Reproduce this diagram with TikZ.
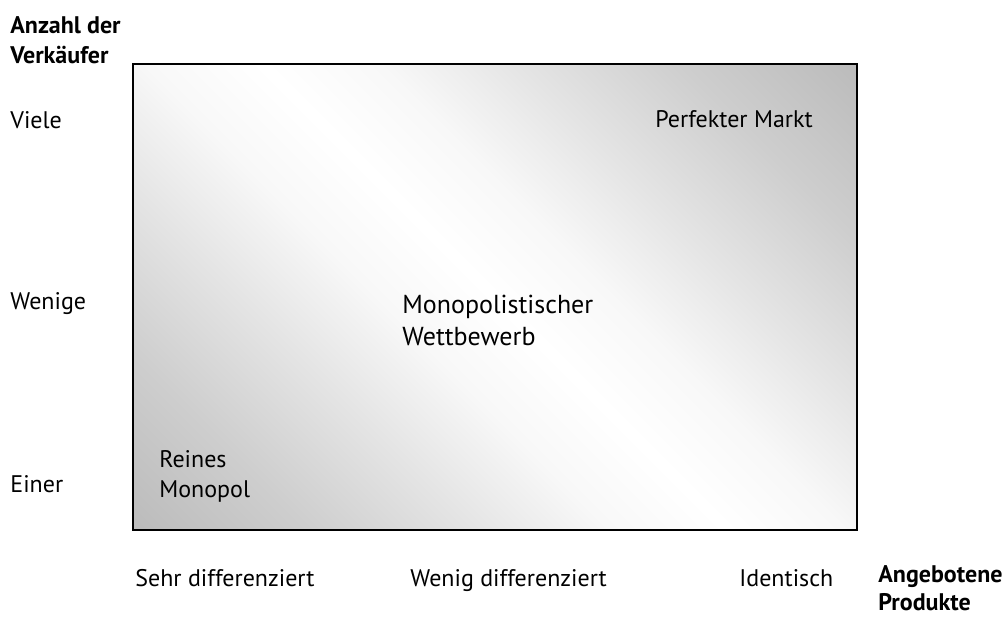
\documentclass[tikz,border=0pt]{standalone}
\usepackage{fontspec}
\setmainfont{PT Sans}
\usepackage{tikz}

\definecolor{feldgrau}{RGB}{188,188,188}
\definecolor{feldmitte}{RGB}{206,206,206}
\definecolor{feldhell}{RGB}{229,229,229}
\definecolor{feldweiss}{RGB}{248,248,248}
\pgfdeclarehorizontalshading{marktfeld}{100bp}{color(0bp)=(feldgrau); color(15bp)=(feldgrau); color(25bp)=(feldmitte); color(35bp)=(feldhell); color(43bp)=(feldweiss); color(50bp)=(white); color(57bp)=(feldweiss); color(65bp)=(feldhell); color(75bp)=(feldmitte); color(85bp)=(feldgrau); color(100bp)=(feldgrau)}

\tikzset{
  lbl/.style={anchor=base west,inner sep=0pt,align=left,font=\fontsize{12}{15}\selectfont},
  achse/.style={lbl,font=\fontsize{12}{15}\selectfont\bfseries}
}

\begin{document}
\begin{tikzpicture}[x=0.5pt,y=-0.5pt]
\useasboundingbox (0,0) rectangle (1007,621);
% Feld
\draw [line width=1pt,shading=marktfeld,shading angle=45] (133,64) rectangle (857,530);
% Achsen (base = letzte Zeile)
\node [achse] (yachse) at (10,63) {Anzahl der\\Verkäufer};
\node [achse,font=\fontsize{12}{14}\selectfont\bfseries] (xachse) at (878,610) {Angebotene\\Produkte};
\node [lbl] (viele) at (10,128) {Viele};
\node [lbl] (wenige) at (10,309) {Wenige};
\node [lbl] (einer) at (10,492) {Einer};
\node [lbl] (sehr) at (135,586) {Sehr differenziert};
\node [lbl] (wenig) at (410,586) {Wenig differenziert};
\node [lbl] (ident) at (739,586) {Identisch};
% Marktformen
\node [lbl] (perfekt) at (655,127) {Perfekter Markt};
\node [lbl,font=\fontsize{13}{16}\selectfont] (wettbew) at (402,345) {Monopolistischer\\Wettbewerb};
\node [lbl] (monopol) at (159,497) {Reines\\Monopol};
\end{tikzpicture}
\end{document}
